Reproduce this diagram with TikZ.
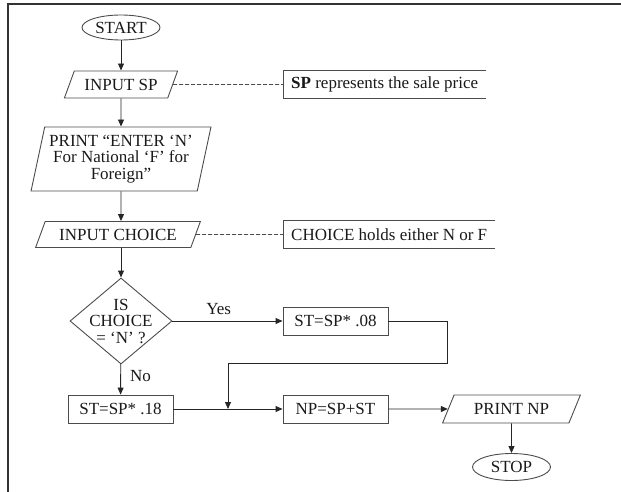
\documentclass[tikz,border=0pt]{standalone}
\usepackage{fontspec}
\setmainfont{Liberation Serif}
\usetikzlibrary{shapes.geometric,arrows.meta,calc}
\begin{document}
\begin{tikzpicture}[x=1pt,y=-1pt,
  font=\fontsize{17}{16.5}\selectfont,
  every node/.style={text=black!90},
  line/.style={draw=black!85, line width=0.9pt},
  arr/.style={line, -{Triangle[length=7pt,width=6pt]}},
  dashline/.style={draw=black!70, line width=0.6pt, dash pattern=on 4pt off 2pt},
  frame/.style={draw=black!80, line width=2pt},
  box/.style={rectangle, draw=black!70, line width=0.9pt, minimum width=105pt, minimum height=28pt, inner sep=0pt},
  io/.style={trapezium, trapezium left angle=56, trapezium right angle=124, trapezium stretches=true, draw=black!70, line width=0.9pt, inner sep=0pt},
  term/.style={ellipse, draw=black!70, line width=0.9pt, minimum width=78pt, minimum height=25pt, inner sep=0pt},
  decision/.style={diamond, draw=black!70, line width=0.9pt, minimum width=102pt, minimum height=86pt, inner sep=0pt},
  note/.style={rectangle, anchor=west, inner xsep=8pt, inner ysep=0pt, minimum height=27pt},
  notebox/.style={draw=black!70, line width=0.9pt},
  lbl/.style={inner sep=0pt}
]
\useasboundingbox (0,0) rectangle (621,492);
\draw[frame] (8,492) -- (8,4) -- (621,4);

\node[term] (start) at (121,27.5) {START};
\node[io, minimum width=114pt, minimum height=27pt] (isp) at (121,84.5) {INPUT SP};
\node[io, trapezium left angle=75, trapezium right angle=105, minimum width=180pt, minimum height=64pt, align=center] (pr) at (121,159) {PRINT “ENTER ‘N’\\For National ‘F’ for\\Foreign”};
\node[io, minimum width=165pt, minimum height=26pt] (ic) at (118,234.5) {INPUT CHOICE};
\node[decision] (dec) at (121,321) {};
\node[align=center, inner sep=0pt] (dect) at (dec) {IS\\CHOICE\\= ‘N’ ?};
\node[box] (s08) at (335.5,321) {ST=SP* .08};
\node[box] (s18) at (120.5,409) {ST=SP* .18};
\node[box] (np) at (335.5,409) {NP=SP+ST};
\node[io, minimum width=139pt, minimum height=28pt] (pnp) at (511.5,409) {PRINT NP};
\node[term, minimum height=27pt] (stop) at (511.5,467) {STOP};

\node[note] (n1) at (283,84.5) {\textbf{SP} represents the sale price};
\node[note] (n2) at (283,234.5) {CHOICE holds either N or F};
\draw[notebox] (n1.north east) -- (n1.north west) -- (n1.south west) -- (n1.south east);
\draw[notebox] (n2.north east) -- (n2.north west) -- (n2.south west) -- (n2.south east);
\draw[dashline] (isp) -- (n1);
\draw[dashline] (ic) -- (n2);

\draw[arr] (start) -- (isp);
\draw[arr] (isp) -- (pr);
\draw[arr] (pr) -- (pr |- ic.north);
\draw[arr] (ic.south -| dec.north) -- (dec.north);
\draw[arr] (dec) -- node[lbl, above=6pt, pos=0.42] {Yes} (s08);
\draw[arr] (dec) -- node[lbl, right=9pt, pos=0.4] {No} (s18);
\coordinate (m) at (228,409);
\draw[arr] (s08.east) -- ++(59,0) -- ++(0,42) -| (m);
\draw[line] (s18) -- (m);
\draw[arr] (m) -- (np);
\draw[arr] (np) -- (pnp);
\draw[arr] (pnp) -- (stop);
\end{tikzpicture}
\end{document}
